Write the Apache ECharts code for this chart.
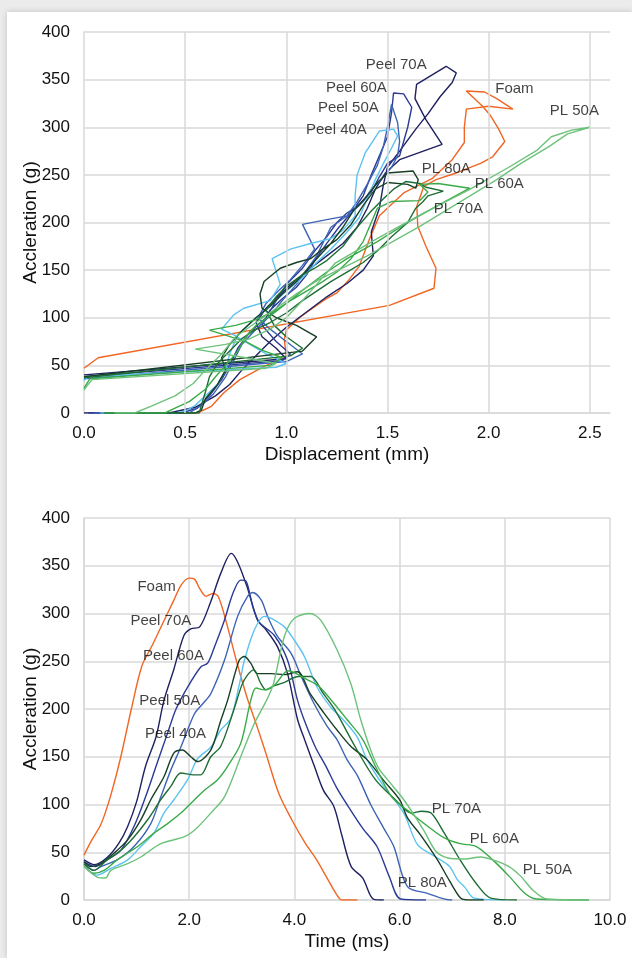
<!DOCTYPE html>
<html>
<head>
<meta charset="utf-8">
<script src="https://cdn.jsdelivr.net/npm/echarts@6/dist/echarts.min.js"></script>
<style>
html, body { margin: 0; padding: 0; background: #ebebeb; }
#chart { position: absolute; left: 7px; top: 12px; width: 625px; height: 946px; background: #fff; box-shadow: 0 0 6px rgba(0,0,0,0.18); }
</style>
</head>
<body>
<div id="chart"></div>
<script>
// series names and colours
var names = ['Foam', 'Peel 70A', 'Peel 60A', 'Peel 50A', 'Peel 40A', 'PL 80A', 'PL 70A', 'PL 60A', 'PL 50A'];
var colors = ['#f26522', '#1e2061', '#2b3b95', '#3d63b6', '#5cc3f0', '#163f25', '#1e6d34', '#3aaa49', '#6dc27b'];

// top chart: [displacement mm, acceleration g]
var foamDisp = [[0,47],[0.07,58],[1.51,113],[1.73,131],[1.74,152],[1.69,175],[1.65,196],[1.645,217],[1.68,238],[1.74,245],[1.84,252],[1.96,262],[2.02,269],[2.08,285],[2.05,298],[2.01,312],[1.97,322],[1.89,338],[1.98,337],[2.04,330],[2.12,319],[2.0,322],[1.89,319],[1.88,300],[1.88,284],[1.82,266],[1.72,246],[1.58,231],[1.46,207],[1.41,182],[1.36,154],[1.31,140],[1.25,126],[1.19,119],[1.07,101],[1.0,87],[0.99,77],[1.0,59],[0.89,49],[0.77,35],[0.69,21],[0.63,7],[0.56,0],[0.08,0]];
var peel70Disp = [[0,40],[1.0,57],[0.95,68],[0.88,80],[0.85,95],[0.9,110],[0.97,125],[1.05,140],[1.12,152],[1.2,165],[1.28,178],[1.35,195],[1.4,215],[1.44,235],[1.49,252],[1.56,266],[1.77,282],[1.69,308],[1.636,330],[1.644,345],[1.79,364],[1.84,357],[1.82,347],[1.76,332],[1.7,314],[1.64,298],[1.56,275],[1.5,258],[1.48,240],[1.46,215],[1.42,190],[1.43,165],[1.38,150],[1.3,136],[1.2,122],[1.1,106],[1.0,90],[0.92,75],[0.85,60],[0.78,45],[0.72,30],[0.65,18],[0.55,6],[0.42,0],[0,0]];
var peel60Disp = [[0,38],[0.98,55],[1.02,62],[0.95,75],[0.88,92],[0.92,108],[0.98,120],[1.05,132],[1.1,145],[1.14,160],[1.2,178],[1.26,195],[1.32,210],[1.38,228],[1.42,250],[1.46,270],[1.5,290],[1.52,315],[1.53,336],[1.58,335],[1.62,321],[1.6,300],[1.58,285],[1.56,270],[1.5,262],[1.46,248],[1.42,232],[1.36,218],[1.3,210],[1.25,200],[1.2,185],[1.14,170],[1.08,152],[1.0,135],[0.95,118],[0.9,100],[0.82,85],[0.76,68],[0.72,50],[0.68,35],[0.62,18],[0.56,5],[0.48,0],[0.02,0]];
var peel50Disp = [[0,36],[1.0,54],[1.08,62],[1.0,75],[0.92,88],[0.86,100],[0.9,115],[0.96,128],[1.02,140],[1.08,155],[1.14,172],[1.08,198],[1.2,203],[1.3,207],[1.35,222],[1.4,240],[1.45,260],[1.48,280],[1.5,300],[1.52,324],[1.55,305],[1.56,285],[1.55,270],[1.52,258],[1.47,245],[1.42,235],[1.38,222],[1.32,210],[1.22,195],[1.18,178],[1.15,165],[1.1,150],[1.05,135],[0.98,118],[0.92,102],[0.85,88],[0.78,72],[0.74,55],[0.7,38],[0.64,20],[0.58,8],[0.52,0],[0.05,0]];
var peel40Disp = [[0,34],[0.02,38],[0.95,48],[1.0,52],[0.9,62],[0.82,72],[0.74,82],[0.68,88],[0.74,103],[0.79,110],[0.92,118],[0.97,135],[0.93,162],[1.02,172],[1.12,178],[1.22,183],[1.28,192],[1.34,207],[1.34,228],[1.35,250],[1.39,273],[1.46,296],[1.53,298],[1.55,291],[1.52,278],[1.48,262],[1.44,245],[1.4,225],[1.36,205],[1.3,190],[1.22,172],[1.15,158],[1.08,142],[1.0,128],[0.92,112],[0.84,98],[0.76,82],[0.72,62],[0.7,45],[0.66,30],[0.6,18],[0.55,8],[0.5,2],[0.45,0],[0.08,0]];
var pl80Disp = [[0,38],[1.08,65],[1.15,80],[1.05,92],[0.95,100],[0.88,110],[0.87,125],[0.89,138],[0.97,152],[1.05,158],[1.12,162],[1.18,172],[1.25,182],[1.32,198],[1.38,218],[1.44,235],[1.5,242],[1.6,240],[1.64,236],[1.652,245],[1.627,254],[1.5,252],[1.45,242],[1.4,228],[1.33,212],[1.28,195],[1.22,178],[1.15,162],[1.1,150],[1.05,138],[0.98,125],[0.92,112],[0.85,100],[0.78,86],[0.72,72],[0.68,58],[0.7,45],[0.66,30],[0.6,15],[0.58,3],[0.55,0],[0.1,0]];
var pl70Disp = [[0,37],[1.02,60],[1.08,68],[1.0,80],[0.94,92],[0.9,108],[0.95,122],[1.0,133],[1.08,145],[1.14,152],[1.2,160],[1.28,175],[1.35,195],[1.42,212],[1.48,225],[1.53,235],[1.59,243],[1.66,241],[1.69,237],[1.776,233],[1.7,228],[1.676,222],[1.64,215],[1.6,200],[1.52,185],[1.45,170],[1.38,158],[1.3,148],[1.22,138],[1.15,128],[1.08,118],[1.0,105],[0.92,95],[0.85,88],[0.78,78],[0.72,65],[0.66,52],[0.62,38],[0.6,22],[0.58,8],[0.57,0],[0.15,0]];
var pl60Disp = [[0,26],[0.02,33],[0.03,36],[0.92,50],[0.98,58],[0.88,66],[0.8,75],[0.62,87],[0.75,92],[0.85,98],[0.95,108],[1.02,118],[1.1,128],[1.18,138],[1.25,148],[1.32,162],[1.38,180],[1.42,200],[1.45,215],[1.52,222],[1.66,223],[1.7,232],[1.66,240],[1.75,241],[1.907,236],[1.75,218],[1.6,200],[1.45,180],[1.3,162],[1.2,148],[1.1,132],[1.0,115],[0.92,102],[0.85,92],[0.8,80],[0.76,65],[0.7,50],[0.65,38],[0.6,25],[0.52,12],[0.45,5],[0.4,0],[0.1,0]];
var pl50Disp = [[0,24],[0.02,30],[0.04,35],[0.9,47],[0.95,52],[0.8,58],[0.55,67],[0.7,72],[0.82,78],[0.92,88],[1.0,100],[1.08,118],[1.15,135],[1.24,157],[1.44,182],[1.68,210],[1.9,234],[2.1,258],[2.24,276],[2.31,290],[2.41,297],[2.5,300],[2.39,293],[2.3,280],[2.16,262],[2.04,245],[1.9,227],[1.66,196],[1.4,165],[1.16,140],[1.05,125],[0.95,110],[0.85,95],[0.75,80],[0.68,62],[0.6,45],[0.54,31],[0.45,18],[0.33,7],[0.25,0],[0.15,0]];

// bottom chart: [time ms, acceleration g]
var foamTime = [[0,47],[0.15,63],[0.32,79],[0.5,108],[0.7,150],[0.9,200],[1.1,245],[1.3,267],[1.5,290],[1.7,313],[1.85,330],[2.0,337],[2.1,336],[2.2,326],[2.32,318],[2.45,321],[2.55,318],[2.7,292],[2.9,250],[3.1,212],[3.3,180],[3.45,155],[3.7,112],[3.95,84],[4.2,60],[4.4,44],[4.6,25],[4.8,6],[4.9,0],[5.2,0]];
var peel70Time = [[0,42],[0.2,37],[0.45,45],[0.67,60],[0.83,77],[1.0,103],[1.17,140],[1.37,171],[1.52,209],[1.7,240],[1.9,277],[2.03,284],[2.2,286],[2.4,311],[2.6,342],[2.8,363],[2.92,354],[3.1,328],[3.3,293],[3.46,283],[3.68,265],[3.87,237],[4.06,189],[4.2,167],[4.38,140],[4.55,115],[4.75,98],[4.9,68],[5.08,35],[5.3,23],[5.5,1],[5.7,0]];
var peel60Time = [[0,40],[0.22,35],[0.44,42],[0.7,52],[0.95,77],[1.17,108],[1.37,140],[1.59,175],[1.75,200],[1.97,223],[2.22,244],[2.35,248],[2.48,265],[2.67,293],[2.83,321],[2.98,335],[3.08,334],[3.21,307],[3.33,291],[3.62,277],[3.87,251],[4.06,209],[4.19,188],[4.4,160],[4.6,140],[4.8,118],[5.0,100],[5.3,75],[5.57,56],[5.8,25],[6.02,1],[6.5,0]];
var peel50Time = [[0,38],[0.19,31],[0.32,35],[0.63,42],[0.95,56],[1.27,80],[1.46,108],[1.65,136],[1.84,160],[2.1,195],[2.25,205],[2.41,216],[2.67,251],[2.92,297],[3.11,318],[3.21,322],[3.37,314],[3.49,297],[3.68,276],[3.94,258],[4.13,234],[4.37,206],[4.62,182],[4.81,168],[5.0,147],[5.2,130],[5.45,100],[5.7,75],[5.89,56],[6.15,14],[6.53,7],[6.97,0],[7.0,0]];
var peel40Time = [[0,35],[0.25,26],[0.51,33],[0.83,42],[1.08,56],[1.33,70],[1.52,91],[1.71,105],[1.97,126],[2.16,148],[2.41,160],[2.6,178],[2.79,190],[2.95,225],[3.05,251],[3.24,283],[3.43,297],[3.56,295],[3.81,286],[4.0,272],[4.19,255],[4.43,223],[4.69,202],[4.94,188],[5.19,171],[5.38,147],[5.7,119],[6.08,91],[6.34,58],[6.69,45],[6.95,35],[7.1,21],[7.23,14],[7.42,2],[8.0,0]];
var pl80Time = [[0,40],[0.13,35],[0.32,38],[0.57,49],[0.83,63],[1.08,84],[1.27,105],[1.52,129],[1.71,154],[1.87,157],[2.03,150],[2.16,145],[2.41,157],[2.6,188],[2.73,209],[2.95,251],[3.05,255],[3.17,248],[3.3,237],[3.56,237],[3.81,236],[4.06,239],[4.3,216],[4.56,196],[4.81,178],[5.07,161],[5.38,147],[5.7,125],[6.0,105],[6.15,86],[6.4,68],[6.72,42],[6.95,20],[7.16,2],[7.3,0],[7.6,0]];
var pl70Time = [[0,38],[0.19,31],[0.44,42],[0.7,52],[0.95,66],[1.21,84],[1.46,105],[1.65,119],[1.84,133],[2.1,131],[2.22,131],[2.41,150],[2.6,161],[2.83,196],[3.0,225],[3.1,235],[3.23,241],[3.35,228],[3.46,220],[3.6,224],[3.77,227],[4.08,234],[4.31,234],[4.54,217],[4.77,199],[5.15,161],[5.54,126],[5.92,105],[6.23,91],[6.42,93],[6.6,91],[6.85,70],[7.15,42],[7.46,17],[7.73,2],[8.23,0]];
var pl60Time = [[0,36],[0.19,28],[0.38,31],[0.63,42],[1.02,56],[1.33,70],[1.59,80],[1.84,91],[2.1,105],[2.29,115],[2.54,126],[2.73,140],[2.98,164],[3.17,209],[3.27,222],[3.43,220],[3.62,225],[3.88,240],[4.0,238],[4.2,232],[4.46,224],[4.69,210],[5.0,189],[5.3,168],[5.54,140],[5.85,108],[6.15,94],[6.54,77],[6.85,65],[7.15,59],[7.46,56],[7.77,42],[8.08,25],[8.38,7],[8.6,1],[9.6,0]];
var pl50Time = [[0,35],[0.25,24],[0.41,23],[0.51,31],[0.83,38],[1.08,45],[1.46,59],[1.9,66],[2.1,73],[2.41,91],[2.67,108],[2.98,150],[3.24,185],[3.47,209],[3.6,226],[3.81,276],[4.0,295],[4.3,300],[4.5,293],[4.81,262],[5.07,227],[5.26,189],[5.45,157],[5.6,138],[5.77,126],[6.08,105],[6.46,73],[6.69,51],[6.92,44],[7.23,43],[7.54,45],[7.77,42],[8.08,35],[8.3,25],[8.54,10],[8.8,1],[9.6,0]];

// vertical grid positions of the top chart (its axis runs on to 2.6 with no line there)
var topXTicks = [0.5, 1.0, 1.5, 2.0, 2.5];

// curve labels: [x, y, text]
var topLabels = [[1.546,365,'Peel 70A'],[1.349,341,'Peel 60A'],[1.309,320,'Peel 50A'],[1.25,297,'Peel 40A'],[2.13,340,'Foam'],[2.426,317,'PL 50A'],[1.793,256,'PL 80A'],[2.055,240,'PL 60A'],[1.853,214,'PL 70A']];
var bottomLabels = [[1.39,327,'Foam'],[1.47,292,'Peel 70A'],[1.71,255,'Peel 60A'],[1.64,208,'Peel 50A'],[1.75,173,'Peel 40A'],[7.09,95,'PL 70A'],[7.81,64,'PL 60A'],[8.82,31,'PL 50A'],[6.44,17,'PL 80A']];

var dispData = [foamDisp, peel70Disp, peel60Disp, peel50Disp, peel40Disp, pl80Disp, pl70Disp, pl60Disp, pl50Disp];
var timeData = [foamTime, peel70Time, peel60Time, peel50Time, peel40Time, pl80Time, pl70Time, pl60Time, pl50Time];

var gridColor = '#d9d9d9';
var textColor = '#111';

function xAxisCfg(idx, max, interval, title, hideMax) {
  return {
    gridIndex: idx, type: 'value', min: 0, max: max, interval: interval,
    name: title, nameLocation: 'middle', nameGap: 32,
    nameTextStyle: { fontSize: 19, color: textColor },
    axisLine: { show: true, lineStyle: { color: gridColor, width: 1.5 } },
    axisTick: { show: false },
    axisLabel: { fontSize: 17, color: textColor, margin: 12, showMaxLabel: !hideMax,
      formatter: function (v) { return v.toFixed(1); } },
    splitLine: { show: !hideMax, lineStyle: { color: gridColor, width: 1.5 } }
  };
}
function yAxisCfg(idx) {
  return {
    gridIndex: idx, type: 'value', min: 0, max: 400, interval: 50,
    name: 'Accleration (g)', nameLocation: 'middle', nameGap: 44, nameMoveOverlap: false,
    nameTextStyle: { fontSize: 19, color: textColor },
    axisLine: { show: true, lineStyle: { color: gridColor, width: 1.5 } },
    axisTick: { show: false },
    axisLabel: { fontSize: 17, color: textColor, margin: 14 },
    splitLine: { show: true, lineStyle: { color: gridColor, width: 1.5 } }
  };
}

var series = [];
// vertical grid lines for the top chart
series.push({
  type: 'line', xAxisIndex: 0, yAxisIndex: 0, data: [], z: 1, silent: true,
  markLine: {
    silent: true, symbol: 'none', label: { show: false }, animation: false,
    lineStyle: { color: gridColor, width: 1.5, type: 'solid' },
    data: topXTicks.map(function (v) { return { xAxis: v }; })
  }
});
names.forEach(function (n, i) {
  series.push({
    name: n, type: 'line', xAxisIndex: 0, yAxisIndex: 0,
    data: dispData[i], showSymbol: false, smooth: false,
    lineStyle: { color: colors[i], width: 1.4 }, z: 2
  });
});
names.forEach(function (n, i) {
  series.push({
    name: n, type: 'line', xAxisIndex: 1, yAxisIndex: 1,
    data: timeData[i], showSymbol: false, smooth: 0.3,
    lineStyle: { color: colors[i], width: 1.4 }, z: 2
  });
});
function labelSeries(idx, rows) {
  return {
    type: 'scatter', xAxisIndex: idx, yAxisIndex: idx, symbolSize: 1, z: 5, silent: true,
    itemStyle: { color: 'rgba(0,0,0,0)' },
    data: rows.map(function (r) { return { value: [r[0], r[1]], name: r[2] }; }),
    label: { show: true, position: [0, 0], align: 'center', verticalAlign: 'middle',
      formatter: '{b}', fontSize: 15, color: textColor, textBorderWidth: 0 }
  };
}
series.push(labelSeries(0, topLabels));
series.push(labelSeries(1, bottomLabels));

var myChart = echarts.init(document.getElementById('chart'));
myChart.setOption({
  animation: false,
  textStyle: { fontFamily: 'Liberation Sans, Arial, sans-serif' },
  grid: [
    { left: 77, top: 20, width: 526, height: 381 },
    { left: 77, top: 506, width: 526, height: 382 }
  ],
  xAxis: [xAxisCfg(0, 2.6, 0.5, 'Displacement (mm)', true), xAxisCfg(1, 10, 2, 'Time (ms)', false)],
  yAxis: [yAxisCfg(0), yAxisCfg(1)],
  series: series
});
</script>
</body>
</html>
